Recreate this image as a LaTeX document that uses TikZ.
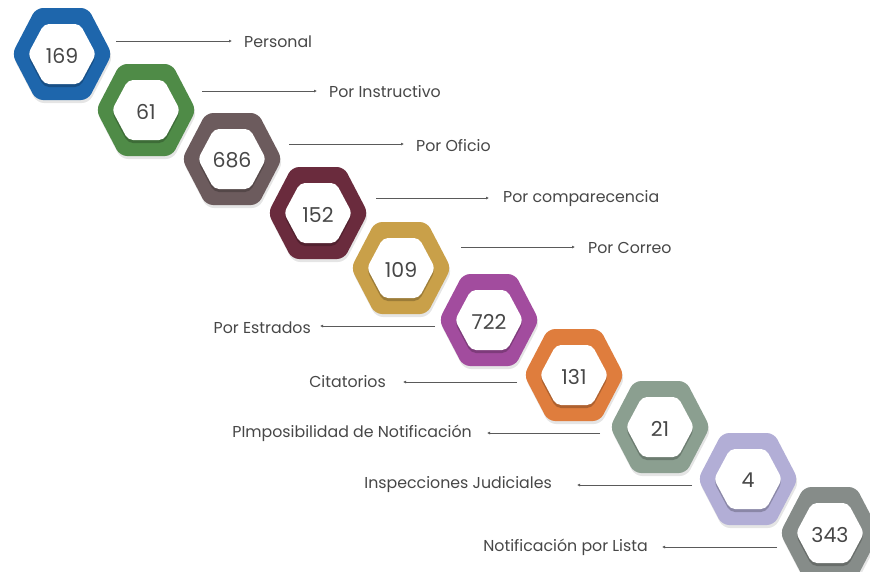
\documentclass[tikz,border=0pt]{standalone}
\usepackage{fontspec}
\setmainfont{Poppins}
\usetikzlibrary{arrows.meta}
\definecolor{cA}{HTML}{1E66AC}
\definecolor{cB}{HTML}{4F8B47}
\definecolor{cC}{HTML}{6C5B5D}
\definecolor{cD}{HTML}{6A2B3D}
\definecolor{cE}{HTML}{C9A049}
\definecolor{cF}{HTML}{A24C9E}
\definecolor{cG}{HTML}{DF7D3D}
\definecolor{cH}{HTML}{8B9F90}
\definecolor{cI}{HTML}{B2AED6}
\definecolor{cJ}{HTML}{868C89}
\definecolor{txt}{HTML}{474747}
\definecolor{linec}{HTML}{5A5A5A}
\begin{document}
\begin{tikzpicture}[x=1pt,y=-1pt,
  lbl/.style={font=\fontsize{15.8}{18}\selectfont, text=txt, inner sep=0pt},
  num/.style={font=\fontsize{20.5}{23}\selectfont, text=txt, inner sep=0pt},
  conn/.style={draw=linec, line width=0.7pt, -{Latex[length=3pt,width=3pt]}},
  outerhex/.style={rounded corners=7pt},
  innerhex/.style={rounded corners=5pt}
]
\useasboundingbox (0,0) rectangle (870,571);
\fill[white] (0,0) rectangle (870,571);

\foreach \i/\x/\y/\c/\n in {1/62/54/cA/169, 2/146/110/cB/61, 3/232/159/cC/686, 4/318/213/cD/152, 5/401/268/cE/109, 6/489/320/cF/722, 7/574/375/cG/131, 8/660/427/cH/21, 9/748/479/cI/4, 10/830/533/cJ/343} {
  \fill[black, opacity=0.10, outerhex] ({\x-49},{\y+3}) -- ({\x-25},{\y-43}) -- ({\x+27},{\y-43}) -- ({\x+51},{\y+3}) -- ({\x+27},{\y+49}) -- ({\x-25},{\y+49}) -- cycle;
  \fill[\c, outerhex] ({\x-50},\y) -- ({\x-26},{\y-46}) -- ({\x+26},{\y-46}) -- ({\x+50},\y) -- ({\x+26},{\y+46}) -- ({\x-26},{\y+46}) -- cycle;
  \fill[black, opacity=0.22, innerhex] ({\x-34},{\y+3}) -- ({\x-18},{\y-27}) -- ({\x+18},{\y-27}) -- ({\x+34},{\y+3}) -- ({\x+18},{\y+33}) -- ({\x-18},{\y+33}) -- cycle;
  \fill[white, innerhex] ({\x-34},\y) -- ({\x-18},{\y-30}) -- ({\x+18},{\y-30}) -- ({\x+34},\y) -- ({\x+18},{\y+30}) -- ({\x-18},{\y+30}) -- cycle;
  \node[num] (h\i) at (\x,{\y+1.5}) {\n};
}

% right-hand labels
\node[lbl, anchor=west] (l1) at (244,42) {Personal};
\node[lbl, anchor=west] (l2) at (329,92) {Por Instructivo};
\node[lbl, anchor=west] (l3) at (416,146) {Por Oficio};
\node[lbl, anchor=west] (l4) at (503,199) {Por comparecencia};
\node[lbl, anchor=west] (l5) at (588,248) {Por Correo};
% left-hand labels
\node[lbl, anchor=east] (l6) at (311,328) {Por Estrados};
\node[lbl, anchor=east] (l7) at (386,382) {Citatorios};
\node[lbl, anchor=east] (l8) at (472,433) {PImposibilidad de Notificación};
\node[lbl, anchor=east] (l9) at (552,485) {Inspecciones Judiciales};
\node[lbl, anchor=east] (l10) at (648,547) {Notificación por Lista};

% connector ends
\coordinate (s1) at (116,41);  \coordinate (t1) at (232,41);
\coordinate (s2) at (202,91);  \coordinate (t2) at (317,91);
\coordinate (s3) at (289,144); \coordinate (t3) at (404,144);
\coordinate (s4) at (376,198); \coordinate (t4) at (489,198);
\coordinate (s5) at (461,247); \coordinate (t5) at (575,247);
\coordinate (s6) at (435,326); \coordinate (t6) at (320,326);
\coordinate (s7) at (517,382); \coordinate (t7) at (403,382);
\coordinate (s8) at (600,433); \coordinate (t8) at (487,433);
\coordinate (s9) at (692,485); \coordinate (t9) at (577,485);
\coordinate (s10) at (777,547); \coordinate (t10) at (662,547);

\foreach \k in {1,...,10} {
  \draw[conn] (s\k) -- (t\k);
}
\end{tikzpicture}
\end{document}
